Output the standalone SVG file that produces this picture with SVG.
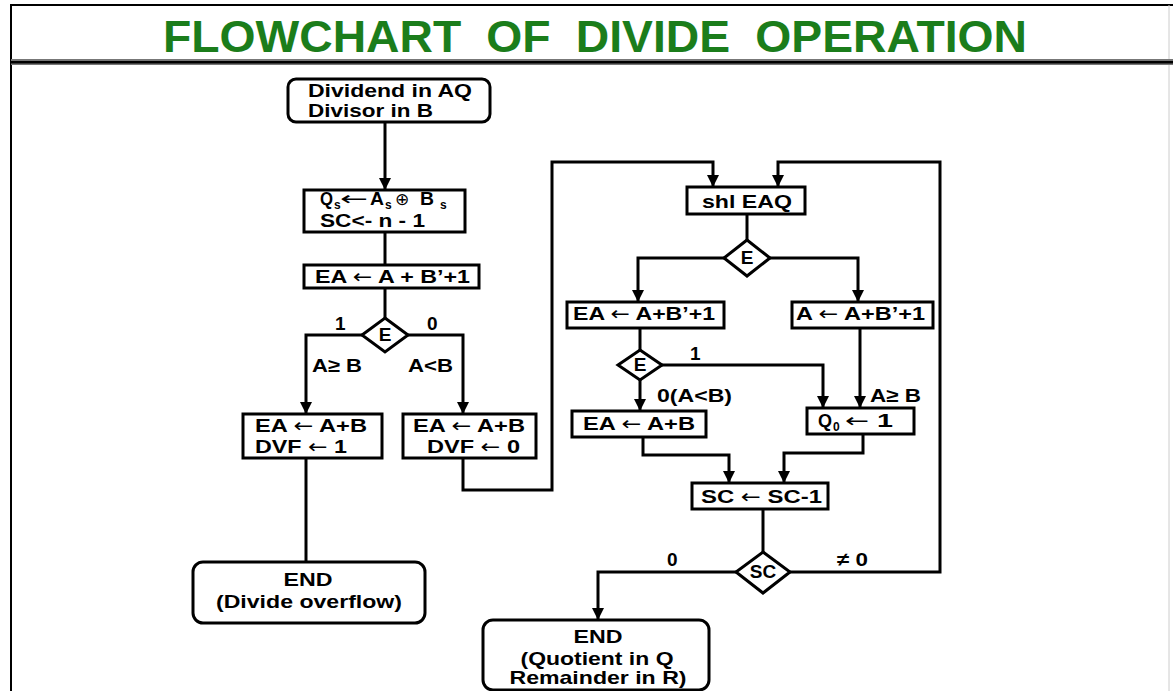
<svg xmlns="http://www.w3.org/2000/svg" width="1173" height="691" viewBox="0 0 1173 691">
<style>
.t{font-family:"Liberation Sans",Arial,sans-serif;font-weight:bold;font-size:19px;fill:#000}
.sub{font-family:"Liberation Sans",Arial,sans-serif;font-weight:bold;font-size:12px;fill:#000}
.ar{font-family:"DejaVu Sans",sans-serif;font-weight:normal}
.box{fill:#fff;stroke:#000;stroke-width:3}
.c{fill:none;stroke:#000;stroke-width:3}
</style>
<defs>
<marker id="ah" markerUnits="userSpaceOnUse" markerWidth="12" markerHeight="12" refX="12" refY="6" orient="auto">
<path d="M0,0 L12,6 L0,12 z" fill="#000"/>
</marker>
</defs>
<rect x="0" y="0" width="1173" height="691" fill="#fff"/>
<g id="frame">
<line x1="10" y1="5" x2="1173" y2="5" stroke="#000" stroke-width="2"/>
<line x1="11" y1="5" x2="11" y2="691" stroke="#000" stroke-width="2"/>
<line x1="1169" y1="5" x2="1169" y2="691" stroke="#ccc" stroke-width="1"/>
<rect x="11" y="59" width="1162" height="6" fill="#777"/>
<rect x="11" y="61" width="1162" height="2.5" fill="#000"/>
<text x="163" y="52" font-family="Liberation Sans,Arial,sans-serif" font-weight="bold" font-size="45" fill="#1b7d1b" word-spacing="12" textLength="864" lengthAdjust="spacingAndGlyphs">FLOWCHART OF DIVIDE OPERATION</text>
</g>
<g id="connectors">
<path class="c" d="M385,122 V190" marker-end="url(#ah)"/>
<path class="c" d="M385,232 V265"/>
<path class="c" d="M385,288 V318"/>
<path class="c" d="M362,335 H306 V414" marker-end="url(#ah)"/>
<path class="c" d="M408,335 H463 V414" marker-end="url(#ah)"/>
<path class="c" d="M306,458 V562"/>
<path class="c" d="M463,458 V490 H552 V162 H713 V187" marker-end="url(#ah)"/>
<path class="c" d="M747,214 V240"/>
<path class="c" d="M724,258 H638 V302" marker-end="url(#ah)"/>
<path class="c" d="M770,258 H858 V302" marker-end="url(#ah)"/>
<path class="c" d="M640,328 V350"/>
<path class="c" d="M662,365 H823 V408" marker-end="url(#ah)"/>
<path class="c" d="M640,380 V411" marker-end="url(#ah)"/>
<path class="c" d="M860,328 V408" marker-end="url(#ah)"/>
<path class="c" d="M643,437 V455 H729 V483" marker-end="url(#ah)"/>
<path class="c" d="M863,434 V453 H784 V483" marker-end="url(#ah)"/>
<path class="c" d="M763,509 V552"/>
<path class="c" d="M736,572 H598 V620" marker-end="url(#ah)"/>
<path class="c" d="M790,572 H940 V162 H778 V187" marker-end="url(#ah)"/>
</g>
<g id="start">
<rect class="box" x="288" y="79" width="202" height="43" rx="8"/>
<text class="t" x="308" y="97" textLength="164" lengthAdjust="spacingAndGlyphs">Dividend in AQ</text>
<text class="t" x="308" y="117" textLength="125" lengthAdjust="spacingAndGlyphs">Divisor in B</text>
</g>
<g id="init">
<rect class="box" x="304" y="190" width="161" height="42"/>
<text class="t" x="320" y="205" textLength="13" lengthAdjust="spacingAndGlyphs">Q</text>
<text class="sub" x="334" y="209">s</text>
<text class="ar" x="340" y="205" font-size="19" textLength="28" lengthAdjust="spacingAndGlyphs">←</text>
<text class="t" x="370" y="205" textLength="14" lengthAdjust="spacingAndGlyphs">A</text>
<text class="sub" x="385" y="209">s</text>
<text x="395" y="205" font-family="DejaVu Sans,sans-serif" font-size="17" fill="#000">⊕</text>
<text class="t" x="420" y="205" textLength="14" lengthAdjust="spacingAndGlyphs">B</text>
<text class="sub" x="440" y="209">s</text>
<text class="t" x="320" y="227" textLength="105" lengthAdjust="spacingAndGlyphs">SC&lt;- n - 1</text>
</g>
<g id="sub1">
<rect class="box" x="304" y="265" width="175" height="23"/>
<text class="t" x="315" y="283" textLength="155" lengthAdjust="spacingAndGlyphs">EA <tspan class="ar">←</tspan> A + B’+1</text>
</g>
<g id="dec1">
<polygon class="box" points="385,318 408,335 385,352 362,335"/>
<text class="t" x="385" y="341" text-anchor="middle" font-size="17">E</text>
<text class="t" x="335" y="330">1</text>
<text class="t" x="427" y="330">0</text>
<text class="t" x="312" y="372" textLength="50" lengthAdjust="spacingAndGlyphs">A≥ B</text>
<text class="t" x="408" y="372" textLength="45" lengthAdjust="spacingAndGlyphs">A&lt;B</text>
</g>
<g id="ovf1">
<rect class="box" x="243" y="414" width="139" height="44"/>
<text class="t" x="255" y="432" textLength="112" lengthAdjust="spacingAndGlyphs">EA <tspan class="ar">←</tspan> A+B</text>
<text class="t" x="255" y="453" textLength="92" lengthAdjust="spacingAndGlyphs">DVF <tspan class="ar">←</tspan> 1</text>
</g>
<g id="ovf0">
<rect class="box" x="403" y="414" width="133" height="44"/>
<text class="t" x="413" y="432" textLength="112" lengthAdjust="spacingAndGlyphs">EA <tspan class="ar">←</tspan> A+B</text>
<text class="t" x="427" y="453" textLength="93" lengthAdjust="spacingAndGlyphs">DVF <tspan class="ar">←</tspan> 0</text>
</g>
<g id="end1">
<rect class="box" x="193" y="562" width="232" height="61" rx="10"/>
<text class="t" x="308" y="586" text-anchor="middle" textLength="49" lengthAdjust="spacingAndGlyphs">END</text>
<text class="t" x="309" y="608" text-anchor="middle" textLength="186" lengthAdjust="spacingAndGlyphs">(Divide overflow)</text>
</g>
<g id="shl">
<rect class="box" x="687" y="187" width="118" height="27"/>
<text class="t" x="702" y="208" textLength="90" lengthAdjust="spacingAndGlyphs">shl EAQ</text>
</g>
<g id="dec2">
<polygon class="box" points="747,240 770,258 747,276 724,258"/>
<text class="t" x="747" y="264" text-anchor="middle" font-size="17">E</text>
</g>
<g id="sub2">
<rect class="box" x="567" y="302" width="157" height="26"/>
<text class="t" x="573" y="320" textLength="142" lengthAdjust="spacingAndGlyphs">EA <tspan class="ar">←</tspan> A+B’+1</text>
</g>
<g id="sub3">
<rect class="box" x="792" y="302" width="141" height="26"/>
<text class="t" x="796" y="320" textLength="129" lengthAdjust="spacingAndGlyphs">A <tspan class="ar">←</tspan> A+B’+1</text>
</g>
<g id="dec3">
<polygon class="box" points="640,350 662,365 640,380 618,365"/>
<text class="t" x="640" y="371" text-anchor="middle" font-size="17">E</text>
<text class="t" x="690" y="360">1</text>
<text class="t" x="657" y="402" textLength="75" lengthAdjust="spacingAndGlyphs">0(A&lt;B)</text>
<text class="t" x="870" y="402" textLength="51" lengthAdjust="spacingAndGlyphs">A≥ B</text>
</g>
<g id="restore">
<rect class="box" x="572" y="411" width="134" height="26"/>
<text class="t" x="583" y="430" textLength="112" lengthAdjust="spacingAndGlyphs">EA <tspan class="ar">←</tspan> A+B</text>
</g>
<g id="setq">
<rect class="box" x="807" y="408" width="107" height="26"/>
<text class="t" x="818" y="427" textLength="14" lengthAdjust="spacingAndGlyphs">Q</text>
<text class="sub" x="833" y="431">0</text>
<text class="t" x="845" y="427" textLength="48" lengthAdjust="spacingAndGlyphs"><tspan class="ar">←</tspan> 1</text>
</g>
<g id="dec_sc">
<rect class="box" x="692" y="483" width="136" height="26"/>
<text class="t" x="701" y="503" textLength="121" lengthAdjust="spacingAndGlyphs">SC <tspan class="ar">←</tspan> SC-1</text>
</g>
<g id="scdec">
<polygon class="box" points="763,552 790,572 763,593 736,572"/>
<text class="t" x="763" y="578" text-anchor="middle" font-size="17">SC</text>
<text class="t" x="667" y="566">0</text>
<text class="t" x="837" y="566" textLength="31" lengthAdjust="spacingAndGlyphs">≠ 0</text>
</g>
<g id="end2">
<rect class="box" x="483" y="620" width="226" height="70" rx="10"/>
<text class="t" x="598" y="643" text-anchor="middle" textLength="49" lengthAdjust="spacingAndGlyphs">END</text>
<text class="t" x="597" y="665" text-anchor="middle" textLength="153" lengthAdjust="spacingAndGlyphs">(Quotient in Q</text>
<text class="t" x="598" y="684" text-anchor="middle" textLength="177" lengthAdjust="spacingAndGlyphs">Remainder in R)</text>
</g>
</svg>
